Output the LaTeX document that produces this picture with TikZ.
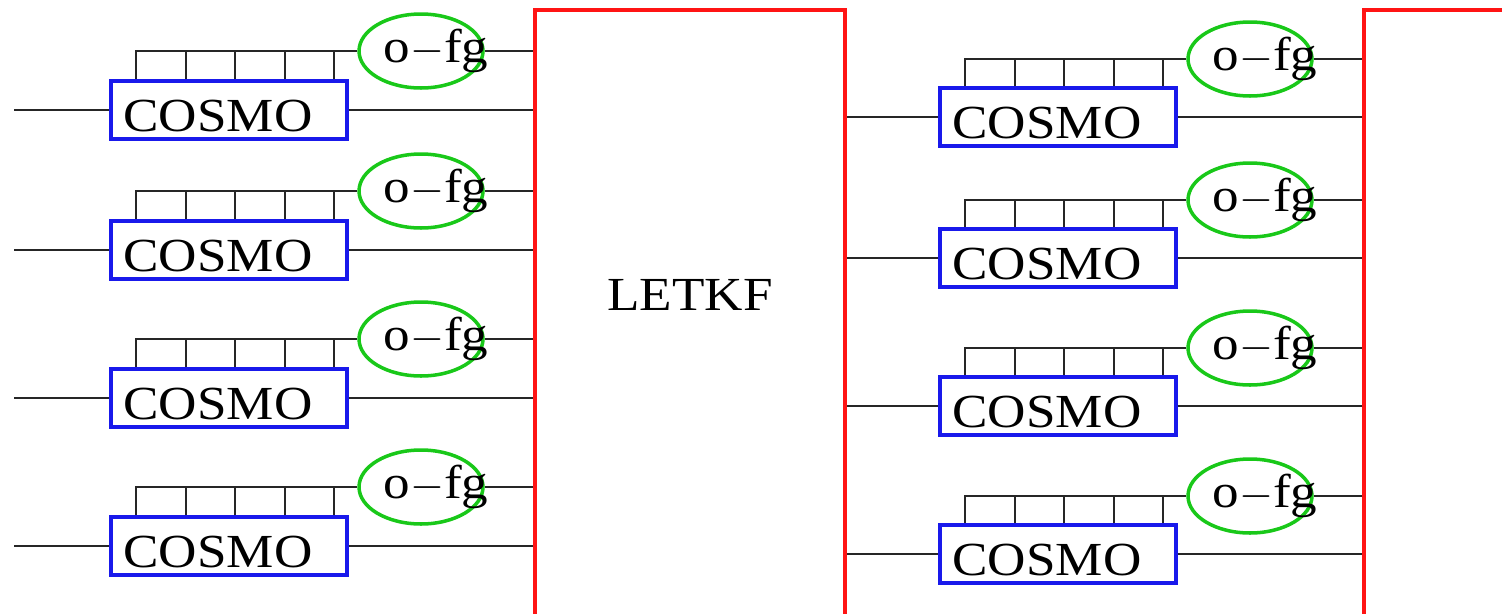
\documentclass[tikz,border=0pt]{standalone}
\usepackage{fontspec}
\setmainfont[FakeStretch=1.12]{Liberation Serif}
\usepackage{tikz}
\usetikzlibrary{positioning, shapes.geometric, calc}
\definecolor{boxred}{RGB}{255,20,20}
\definecolor{boxblue}{RGB}{25,25,235}
\definecolor{ofggreen}{RGB}{25,200,25}

\begin{document}
\begin{tikzpicture}[x=0.02cm, y=-0.02cm,
		font=\fontsize{27}{29}\selectfont,
		wire/.style={line width=0.9pt, black!85},
		filterbox/.style={draw=boxred, line width=2.4pt, minimum width=6.2cm, minimum height=13cm, anchor=north west},
		modelbox/.style={draw=boxblue, line width=2pt, minimum width=4.72cm, minimum height=1.16cm},
		obsop/.style={ellipse, draw=ofggreen, line width=2pt, minimum width=2.48cm, minimum height=1.48cm, inner sep=0pt}]
		\useasboundingbox (0,0) rectangle (1502,613);
		
		% 同化框：LETKF在中间，右侧下一个框只露出左边
		\node (letkf) [filterbox] at (533,8) {};
		\node (letkflabel) at (690,295) {LETKF};
		\node (nextkf) [filterbox] at (1362,8) {};
		
		% 梳子齿的位置（相对COSMO框左边）
		\def\teeth{77,126,176,225}
		
		% ---------------------- 左侧：四个COSMO成员 ----------------------
		\foreach \row/\yy in {1/110, 2/250, 3/398, 4/546} {
			\node (cl\row) [modelbox] at (229,\yy) {};
			\node (cl\row txt) [anchor=base west] at ($(cl\row.west)+(8,21)$) {COSMO};
			\node (ol\row) [obsop] at (421,{\yy-59}) {};
			\node (ol\row txt) [anchor=base] at ($(ol\row.center)+(15,11)$) {o$-$fg};
			\coordinate (in\row) at (14,\yy);
			\draw[wire] (in\row) -- (cl\row.west); % 左边输入线
			\draw[wire] (cl\row.east) -- (cl\row.east -| letkf.west);
			\draw[wire] (ol\row.east) -- (ol\row.east -| letkf.west);
			\draw[wire] (ol\row.west) -| ([xshift=0.54cm]cl\row.north west); % 梳子顶线+第一齿
			\foreach \t in \teeth {
				\draw[wire] ([xshift=\t*0.02cm]cl\row.north west) -- ([xshift=\t*0.02cm]cl\row.north west |- ol\row.west);
			}
		}
		
		% ---------------------- 右侧：四个COSMO成员 ----------------------
		\foreach \row/\yy in {1/117, 2/258, 3/406, 4/554} {
			\node (cr\row) [modelbox] at (1058,\yy) {};
			\node (cr\row txt) [anchor=base west] at ($(cr\row.west)+(8,21)$) {COSMO};
			\node (or\row) [obsop] at (1250,{\yy-58}) {};
			\node (or\row txt) [anchor=base] at ($(or\row.center)+(15,11)$) {o$-$fg};
			\draw[wire] (cr\row.west -| letkf.east) -- (cr\row.west); % 从LETKF出来
			\draw[wire] (cr\row.east) -- (cr\row.east -| nextkf.west);
			\draw[wire] (or\row.east) -- (or\row.east -| nextkf.west);
			\draw[wire] (or\row.west) -| ([xshift=0.54cm]cr\row.north west);
			\foreach \t in \teeth {
				\draw[wire] ([xshift=\t*0.02cm]cr\row.north west) -- ([xshift=\t*0.02cm]cr\row.north west |- or\row.west);
			}
		}
	\end{tikzpicture}
\end{document}
